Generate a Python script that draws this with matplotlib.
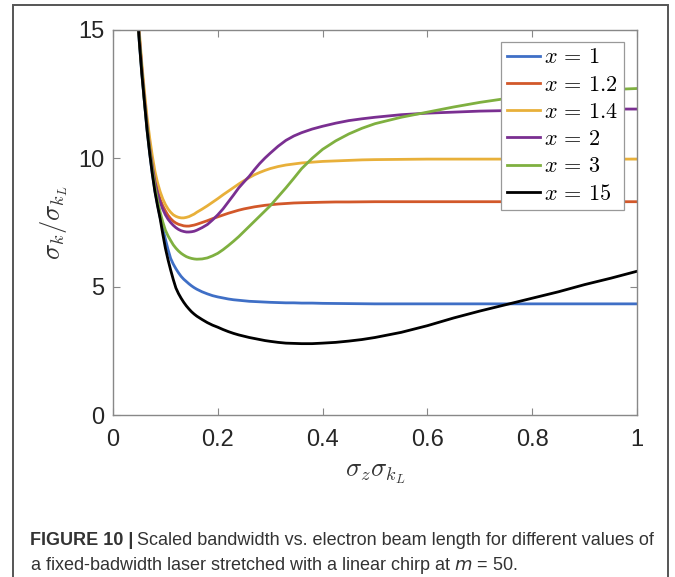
import numpy as np
import matplotlib.pyplot as plt
from matplotlib.patches import Rectangle

plt.rcParams['mathtext.fontset'] = 'cm'
plt.rcParams['font.family'] = ['Liberation Sans', 'DejaVu Sans']

# sigma_z * sigma_kL sample positions
sz = [0.045, 0.05, 0.055, 0.06, 0.065, 0.07, 0.075, 0.08, 0.085, 0.09,
      0.095, 0.10, 0.105, 0.11, 0.115, 0.12, 0.125, 0.13, 0.135, 0.14,
      0.145, 0.15, 0.155, 0.16, 0.17, 0.18, 0.19, 0.20, 0.21, 0.22,
      0.23, 0.24, 0.25, 0.26, 0.27, 0.28, 0.29, 0.30, 0.315, 0.33,
      0.345, 0.36, 0.38, 0.40, 0.425, 0.45, 0.475, 0.50, 0.55, 0.60,
      0.65, 0.70, 0.75, 0.80, 0.85, 0.90, 0.95, 1.00]

# scaled bandwidth sigma_k / sigma_kL for each x
bw_x1 = [16.2, 14.6, 13.3, 12.2, 11.1, 10.2, 9.4, 8.75, 8.2, 7.7,
         7.25, 6.85, 6.45, 6.1, 5.88, 5.7, 5.54, 5.4, 5.29, 5.2,
         5.11, 5.03, 4.96, 4.9, 4.8, 4.72, 4.65, 4.6, 4.56, 4.52,
         4.49, 4.47, 4.45, 4.43, 4.42, 4.41, 4.40, 4.39, 4.38, 4.37,
         4.37, 4.36, 4.36, 4.35, 4.345, 4.34, 4.335, 4.33, 4.33, 4.33,
         4.33, 4.33, 4.33, 4.33, 4.33, 4.33, 4.33, 4.33]
bw_x12 = [16.5, 14.8, 13.5, 12.4, 11.4, 10.5, 9.8, 9.2, 8.75, 8.4,
          8.15, 7.95, 7.78, 7.65, 7.55, 7.48, 7.43, 7.4, 7.37, 7.36,
          7.36, 7.38, 7.4, 7.43, 7.5, 7.57, 7.65, 7.72, 7.79, 7.86,
          7.92, 7.98, 8.03, 8.07, 8.11, 8.14, 8.17, 8.19, 8.22, 8.24,
          8.26, 8.27, 8.28, 8.29, 8.30, 8.30, 8.305, 8.31, 8.31, 8.31,
          8.31, 8.31, 8.31, 8.31, 8.31, 8.31, 8.31, 8.31]
bw_x14 = [16.6, 15.0, 13.7, 12.6, 11.6, 10.8, 10.1, 9.5, 9.05, 8.7,
          8.42, 8.2, 8.03, 7.9, 7.8, 7.74, 7.7, 7.68, 7.68, 7.7,
          7.73, 7.78, 7.83, 7.9, 8.02, 8.15, 8.29, 8.43, 8.58, 8.72,
          8.86, 9.0, 9.13, 9.25, 9.36, 9.45, 9.53, 9.6, 9.68, 9.74,
          9.78, 9.82, 9.85, 9.88, 9.9, 9.92, 9.94, 9.95, 9.96, 9.97,
          9.97, 9.97, 9.97, 9.97, 9.97, 9.97, 9.97, 9.97]
bw_x2 = [16.5, 14.8, 13.5, 12.3, 11.3, 10.4, 9.7, 9.1, 8.65, 8.3,
         8.02, 7.8, 7.63, 7.5, 7.39, 7.3, 7.23, 7.18, 7.15, 7.13,
         7.13, 7.14, 7.16, 7.2, 7.3, 7.42, 7.6, 7.8, 8.03, 8.3,
         8.57, 8.85, 9.08, 9.3, 9.56, 9.8, 10.01, 10.2, 10.47, 10.7,
         10.87, 11.0, 11.14, 11.25, 11.37, 11.47, 11.54, 11.6, 11.7, 11.76,
         11.8, 11.84, 11.86, 11.88, 11.9, 11.91, 11.92, 11.92]
bw_x3 = [16.4, 14.7, 13.4, 12.2, 11.2, 10.3, 9.55, 8.9, 8.35, 7.9,
         7.52, 7.2, 6.98, 6.8, 6.63, 6.5, 6.39, 6.3, 6.23, 6.17,
         6.13, 6.1, 6.08, 6.07, 6.08, 6.12, 6.2, 6.3, 6.44, 6.6,
         6.77, 6.95, 7.15, 7.35, 7.55, 7.75, 7.95, 8.15, 8.5, 8.85,
         9.22, 9.6, 10.0, 10.35, 10.68, 10.95, 11.17, 11.35, 11.6, 11.8,
         12.0, 12.18, 12.33, 12.45, 12.55, 12.63, 12.68, 12.72]
bw_x15 = [16.2, 14.6, 13.3, 12.2, 11.1, 10.2, 9.4, 8.7, 8.15, 7.65,
          7.05, 6.5, 6.05, 5.65, 5.28, 4.95, 4.73, 4.55, 4.39, 4.25,
          4.13, 4.02, 3.93, 3.85, 3.72, 3.6, 3.5, 3.42, 3.33, 3.25,
          3.18, 3.12, 3.07, 3.02, 2.98, 2.94, 2.9, 2.87, 2.83, 2.8,
          2.79, 2.78, 2.78, 2.8, 2.83, 2.88, 2.94, 3.02, 3.22, 3.48,
          3.78, 4.05, 4.3, 4.55, 4.8, 5.08, 5.33, 5.6]

labels = ['1', '1.2', '1.4', '2', '3', '15']
colors = ['#3f6fc6', '#d2582a', '#e8b03a', '#7a2f91', '#7fb040', '#000000']
series = [bw_x1, bw_x12, bw_x14, bw_x2, bw_x3, bw_x15]

fig = plt.figure(figsize=(6.75, 5.77), dpi=100)

# outer caption frame (open at the bottom edge)
fig.patches.append(Rectangle((13 / 675, -0.05), 655 / 675, 1.05 - 5 / 577,
                             transform=fig.transFigure, fill=False,
                             edgecolor='#555555', linewidth=1.4))

ax = fig.add_axes([113 / 675, 1 - 415 / 577, 524 / 675, 385 / 577])
for ys, lab, c in zip(series, labels, colors):
    ax.plot(sz, ys, color=c, linewidth=2, label=r'$x\,=\,%s$' % lab)

ax.set_xlim(0, 1)
ax.set_ylim(0, 15)
ax.set_xticks([0, 0.2, 0.4, 0.6, 0.8, 1])
ax.set_xticklabels(['0', '0.2', '0.4', '0.6', '0.8', '1'])
ax.set_yticks([0, 5, 10, 15])
ax.tick_params(direction='in', top=True, right=True, length=5,
               color='#888888', labelsize=17, labelcolor='#262626')
ax.tick_params(axis='x', pad=10)
ax.tick_params(axis='y', pad=6)
for s in ax.spines.values():
    s.set_color('#888888')
    s.set_linewidth(1.0)

ax.set_xlabel(r'$\sigma_z\sigma_{k_L}$', fontsize=19, color='#333333', labelpad=8)
ax.set_ylabel(r'$\sigma_k/\sigma_{k_L}$', fontsize=19, color='#333333', labelpad=6)

leg = ax.legend(loc='upper right', bbox_to_anchor=(0.975, 0.969), fontsize=16,
                handlelength=1.5, handletextpad=0.2, borderpad=0.25,
                labelspacing=0.28, fancybox=False, framealpha=1,
                edgecolor='#999999', borderaxespad=0)
leg.get_frame().set_linewidth(0.9)

# caption: bold lead-in followed by the regular text
fig.canvas.draw()
cap = fig.text(30 / 675, 1 - 545 / 577, 'FIGURE 10 |', fontsize=13,
               fontweight='bold', color='#333333', va='baseline')
bb = cap.get_window_extent(fig.canvas.get_renderer())
fig.text((bb.x1 + 4) / 675, 1 - 545 / 577,
         'Scaled bandwidth vs. electron beam length for different values of',
         fontsize=13, color='#333333', va='baseline')
fig.text(30 / 675, 1 - 570 / 577,
         'a fixed-badwidth laser stretched with a linear chirp at $m$ = 50.',
         fontsize=13, color='#333333', va='baseline', math_fontfamily='dejavusans')

fig.savefig('out.png', dpi=100)
